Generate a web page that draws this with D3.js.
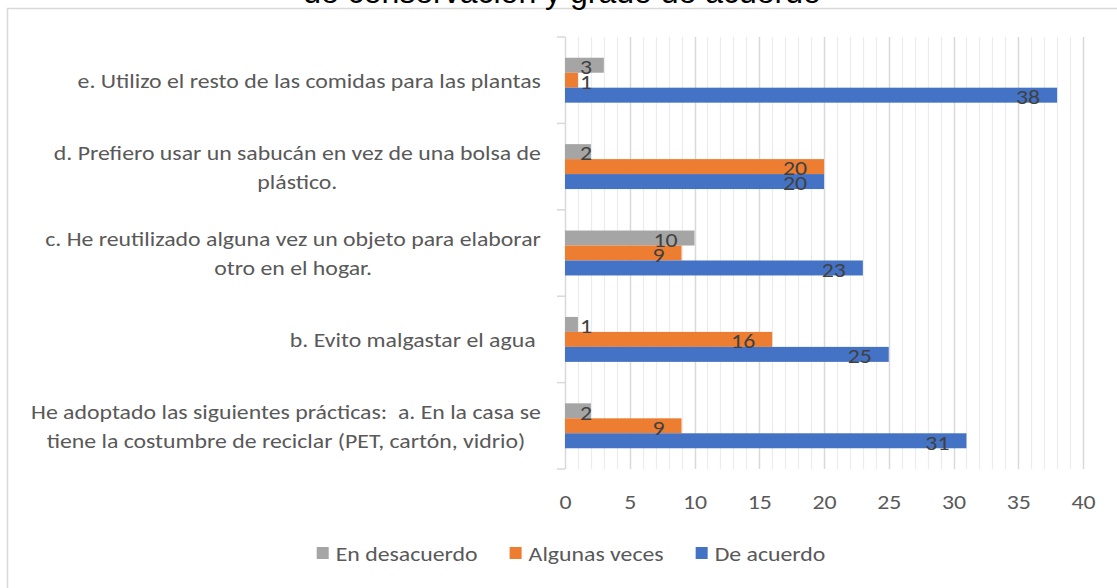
<!DOCTYPE html>
<html>
<head>
<meta charset="utf-8">
<script src="https://cdn.jsdelivr.net/npm/d3@7"></script>
<style>
  html, body { margin: 0; padding: 0; background: #fff; overflow: hidden; }
  svg { display: block; }
  text { white-space: pre; }
</style>
</head>
<body>
<div id="chart"></div>
<script>
// categories, top to bottom as drawn; "\n" marks the line breaks of the label
const categories = [
    "e. Utilizo el resto de las comidas para las plantas",
    "d. Prefiero usar un sabucán en vez de una bolsa de\nplástico.",
    "c. He reutilizado alguna vez un objeto para elaborar\notro en el hogar.",
    "b. Evito malgastar el agua ",
    "He adoptado las siguientes prácticas:  a. En la casa se\ntiene la costumbre de reciclar (PET, cartón, vidrio)"
];
const seriesNames = ["En desacuerdo", "Algunas veces", "De acuerdo"];
const enDesacuerdo = [3, 2, 10, 1, 2];
const algunasVeces = [1, 20, 9, 16, 9];
const deAcuerdo = [38, 20, 23, 25, 31];
const xTicks = [0, 5, 10, 15, 20, 25, 30, 35, 40];
const titleText = "de conservación y grado de acuerdo";

const colors = ["#a5a5a5", "#ed7d31", "#4472c4"];
const textColor = "#595959";
const labelFont = "Carlito, Calibri, Lato, sans-serif";
// the original picture is stretched sideways, so text is too
const SX = 1.19;

const width = 1117,
    height = 588;
const plot = { left: 565, right: 1083, top: 37, bottom: 469 };

const svg = d3.select("#chart")
    .append("svg")
    .attr("width", width)
    .attr("height", height);

// chart frame (runs off the right and bottom of the picture)
svg.append("rect")
    .attr("x", 7.5)
    .attr("y", 8.5)
    .attr("width", 1130)
    .attr("height", 600)
    .attr("fill", "none")
    .attr("stroke", "#d9d9d9")
    .attr("stroke-width", 1.5);

// title, only its last line shows
svg.append("text")
    .attr("x", 562)
    .attr("y", 2.5)
    .attr("text-anchor", "middle")
    .attr("font-family", "'Liberation Sans', Arial, sans-serif")
    .attr("font-size", 32)
    .attr("fill", "#000")
    .text(titleText);

const x = d3.scaleLinear()
    .domain([0, 40])
    .range([plot.left, plot.right]);

const y = d3.scaleBand()
    .domain(d3.range(categories.length))
    .range([plot.top, plot.bottom])
    .paddingInner(0.48)
    .paddingOuter(0.24);

const ySub = d3.scaleBand()
    .domain(d3.range(seriesNames.length))
    .range([0, y.bandwidth()]);

// minor and major vertical gridlines
svg.append("g")
    .selectAll("line")
    .data(d3.range(1, 41).filter(d => d % 5 !== 0))
    .join("line")
    .attr("x1", d => Math.round(x(d)) + 0.5)
    .attr("x2", d => Math.round(x(d)) + 0.5)
    .attr("y1", plot.top)
    .attr("y2", plot.bottom)
    .attr("stroke", "#ececec")
    .attr("stroke-width", 1.2);

svg.append("g")
    .selectAll("line")
    .data(xTicks.filter(d => d > 0))
    .join("line")
    .attr("x1", d => Math.round(x(d)) + 0.5)
    .attr("x2", d => Math.round(x(d)) + 0.5)
    .attr("y1", plot.top)
    .attr("y2", plot.bottom)
    .attr("stroke", "#d9d9d9")
    .attr("stroke-width", 1.5);

// category axis line with tick marks between groups
const yAxis = svg.append("g");
yAxis.append("line")
    .attr("x1", plot.left + 0.5)
    .attr("x2", plot.left + 0.5)
    .attr("y1", plot.top)
    .attr("y2", plot.bottom)
    .attr("stroke", "#d9d9d9")
    .attr("stroke-width", 1.5);
yAxis.selectAll("line.tick")
    .data(d3.range(categories.length + 1))
    .join("line")
    .attr("class", "tick")
    .attr("x1", plot.left - 8)
    .attr("x2", plot.left)
    .attr("y1", d => plot.top + d * y.step())
    .attr("y2", d => plot.top + d * y.step())
    .attr("stroke", "#d9d9d9")
    .attr("stroke-width", 1.5);

// bottom axis labels (no line)
const xAxis = svg.append("g")
    .attr("transform", `translate(0,${plot.bottom})`)
    .call(d3.axisBottom(x).tickValues(xTicks).tickSize(0).tickPadding(26));
xAxis.select(".domain").remove();
xAxis.selectAll("text")
    .attr("font-family", labelFont)
    .attr("font-size", 20)
    .attr("fill", textColor)
    .attr("transform", `scale(${SX},1)`);

// bars
const values = [enDesacuerdo, algunasVeces, deAcuerdo];
const groups = svg.append("g")
    .selectAll("g")
    .data(categories.map((c, i) => i))
    .join("g")
    .attr("transform", i => `translate(0,${y(i)})`);

groups.selectAll("rect")
    .data(i => values.map((s, k) => ({ k: k, v: s[i] })))
    .join("rect")
    .attr("x", x(0))
    .attr("y", d => ySub(d.k))
    .attr("width", d => x(d.v) - x(0))
    .attr("height", ySub.bandwidth())
    .attr("fill", d => colors[d.k]);

// value labels near the bar end
groups.selectAll("text")
    .data(i => values.map((s, k) => ({ k: k, v: s[i] })))
    .join("text")
    .attr("dominant-baseline", "central")
    .attr("text-anchor", "end")
    .attr("font-family", labelFont)
    .attr("font-size", 20)
    .attr("fill", "#404040")
    .text(d => d.v)
    .attr("transform", function (d) {
        const w = this.getComputedTextLength() * SX;
        const tx = Math.max(x(d.v) - 17, x(0) + 15 + w);
        const ty = ySub(d.k) + ySub.bandwidth() / 2 + 2;
        return `translate(${tx},${ty}) scale(${SX},1)`;
    });

// category labels, centred lines, block right-aligned
const labels = svg.append("g");
categories.forEach((c, i) => {
    const lines = c.split("\n");
    const g = labels.append("g");
    const cy = y(i) + y.bandwidth() / 2;
    const t = g.selectAll("text")
        .data(lines)
        .join("text")
        .attr("dominant-baseline", "central")
        .attr("text-anchor", "middle")
        .attr("font-family", labelFont)
        .attr("font-size", 20)
        .attr("fill", textColor)
        .text(d => d);
    const maxW = d3.max(t.nodes(), n => n.getComputedTextLength()) * SX;
    t.attr("transform", (d, j) =>
        `translate(${541 - maxW / 2},${cy + (j - (lines.length - 1) / 2) * 29 + 1}) scale(${SX},1)`);
});

// legend
const legend = svg.append("g");
const items = legend.selectAll("g")
    .data(seriesNames)
    .join("g");
items.append("rect")
    .attr("width", 12)
    .attr("height", 12)
    .attr("y", 547)
    .attr("fill", (d, i) => colors[i]);
items.append("text")
    .attr("transform", `translate(19,554) scale(${SX},1)`)
    .attr("dominant-baseline", "central")
    .attr("font-family", labelFont)
    .attr("font-size", 20)
    .attr("fill", textColor)
    .text(d => d);
let pos = 0;
const offsets = [];
items.each(function () {
    offsets.push(pos);
    pos += 19 + d3.select(this).select("text").node().getComputedTextLength() * SX + 32;
});
const total = pos - 32;
const start = 571 - total / 2;
items.attr("transform", (d, i) => `translate(${start + offsets[i]},0)`);
</script>
</body>
</html>
